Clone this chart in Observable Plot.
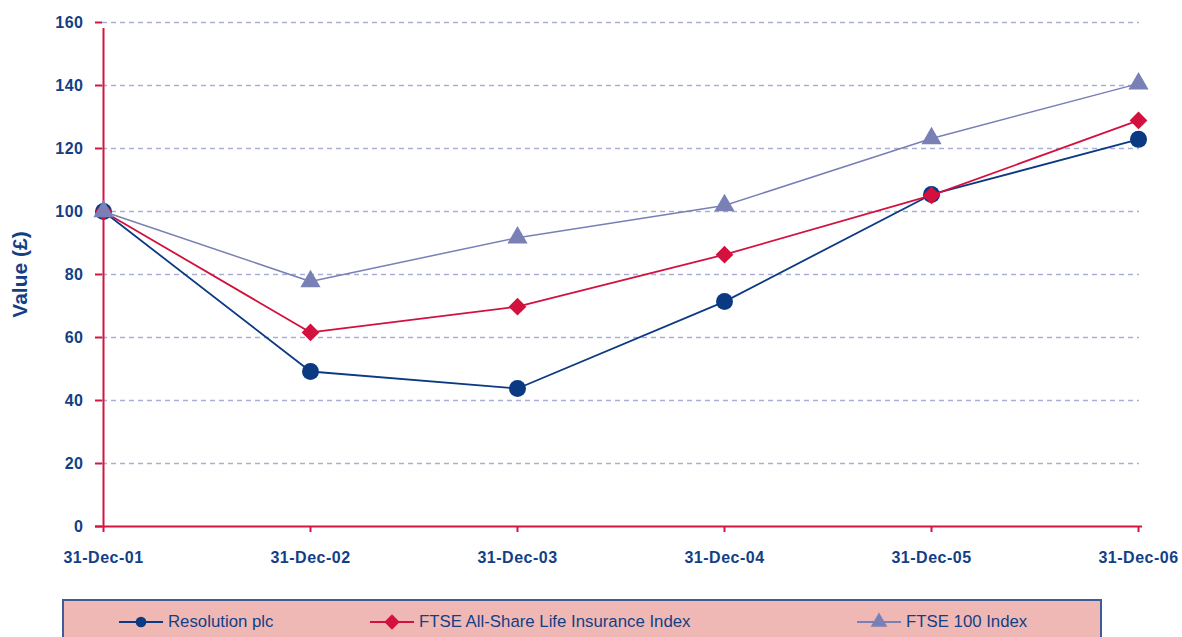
<!DOCTYPE html>
<html>
<head>
<meta charset="utf-8">
<script src="https://cdn.jsdelivr.net/npm/d3@7"></script>
<script src="https://cdn.jsdelivr.net/npm/@observablehq/plot@0.6"></script>
<style>
  html, body { margin: 0; padding: 0; background: #fff; }
  body { width: 1182px; height: 637px; overflow: hidden; font-family: "Liberation Sans", Arial, sans-serif; }
  #legend {
    margin-left: 62px; margin-top: 9px; width: 1036px; height: 40px;
    background: #f0b8b4; border: 2px solid #3d5c98; border-bottom: none;
    position: relative;
  }
  .item { position: absolute; top: 11px; display: flex; align-items: center; font-size: 16.8px; color: #123f86; }
  .item svg { margin-right: 3px; }
</style>
</head>
<body>
<div id="chart"></div>
<div id="legend"></div>
<script>
const dates = ["31-Dec-01", "31-Dec-02", "31-Dec-03", "31-Dec-04", "31-Dec-05", "31-Dec-06"];
const resolution = [100, 49.2, 43.8, 71.4, 105.4, 122.9];
const ftseLife = [100, 61.6, 69.8, 86.3, 105.1, 128.9];
const ftse100 = [100, 77.8, 91.7, 101.9, 123.2, 140.6];
const seriesNames = ["Resolution plc", "FTSE All-Share Life Insurance Index", "FTSE 100 Index"];
const seriesColors = ["#0c3a82", "#d2113e", "#7880b6"];
const seriesSymbols = ["circle", "diamond2", "triangle"];
const seriesRadius = [8.5, 8, 7.5];
const yTicks = [0, 20, 40, 60, 80, 100, 120, 140, 160];
const yLabel = "Value (£)";

const red = "#d4163f";
const navy = "#123f86";
const font = "'Liberation Sans', Arial, sans-serif";

const seriesValues = [resolution, ftseLife, ftse100];
const rows = [];
seriesValues.forEach((vals, s) => vals.forEach((v, i) => rows.push({series: seriesNames[s], date: dates[i], value: v})));

const marks = [
  Plot.ruleY(yTicks.filter(d => d > 0), {stroke: "#a9aed6", strokeWidth: 1.3, strokeDasharray: "5,4"}),
  Plot.axisY({ticks: yTicks, tickSize: 7, tickPadding: 12, stroke: red, strokeWidth: 2, strokeOpacity: 1,
    fill: navy, fontSize: 16, fontWeight: "bold", label: null}),
  Plot.axisX({tickSize: 6, tickPadding: 19, stroke: red, strokeWidth: 2, strokeOpacity: 1,
    fill: navy, fontSize: 16, fontWeight: "bold", label: null}),
  Plot.ruleX([dates[0]], {y1: 0, y2: 160, stroke: red, strokeWidth: 2, insetBottom: -6}),
  Plot.ruleY([0], {stroke: red, strokeWidth: 2, insetLeft: -7, insetRight: -3}),
  Plot.text([yLabel], {frameAnchor: "left", textAnchor: "middle", dx: -82, rotate: -90, fontSize: 21, fontWeight: "bold", fill: navy, text: d => d})
];
seriesNames.forEach((name, s) => {
  const data = rows.filter(r => r.series === name);
  marks.push(Plot.line(data, {x: "date", y: "value", stroke: seriesColors[s], strokeWidth: s === 2 ? 1.5 : 1.8}));
  marks.push(Plot.dot(data, {x: "date", y: "value", fill: seriesColors[s], symbol: seriesSymbols[s], r: seriesRadius[s], stroke: "none"}));
});

const chart = Plot.plot({
  width: 1182,
  height: 590,
  marginLeft: 102,
  marginRight: 43,
  marginTop: 22,
  marginBottom: 64,
  style: {fontFamily: font, background: "transparent", overflow: "visible"},
  x: {type: "point", domain: dates, padding: 0},
  y: {domain: [0, 160]},
  marks
});
chart.querySelectorAll('g[aria-label$="tick label"] text').forEach(t => {
  t.style.fontSize = "16px";
  t.style.fontWeight = "bold";
  t.style.letterSpacing = "0.5px";
});
document.getElementById("chart").appendChild(chart);

// legend
const legend = document.getElementById("legend");
const itemLefts = [55, 306, 793];
seriesNames.forEach((name, s) => {
  const div = document.createElement("div");
  div.className = "item";
  div.style.left = itemLefts[s] + "px";
  const svg = d3.create("svg").attr("width", 46).attr("height", 20);
  svg.append("line").attr("x1", 0).attr("x2", 44).attr("y1", 10).attr("y2", 10).attr("stroke", seriesColors[s]).attr("stroke-width", 2);
  const sym = [d3.symbolCircle, d3.symbolDiamond2, d3.symbolTriangle][s];
  const size = [90, 150, 120][s];
  svg.append("path").attr("d", d3.symbol(sym, size)()).attr("transform", "translate(22,10)").attr("fill", seriesColors[s]);
  div.appendChild(svg.node());
  const span = document.createElement("span");
  span.textContent = name;
  div.appendChild(span);
  legend.appendChild(div);
});
</script>
</body>
</html>
